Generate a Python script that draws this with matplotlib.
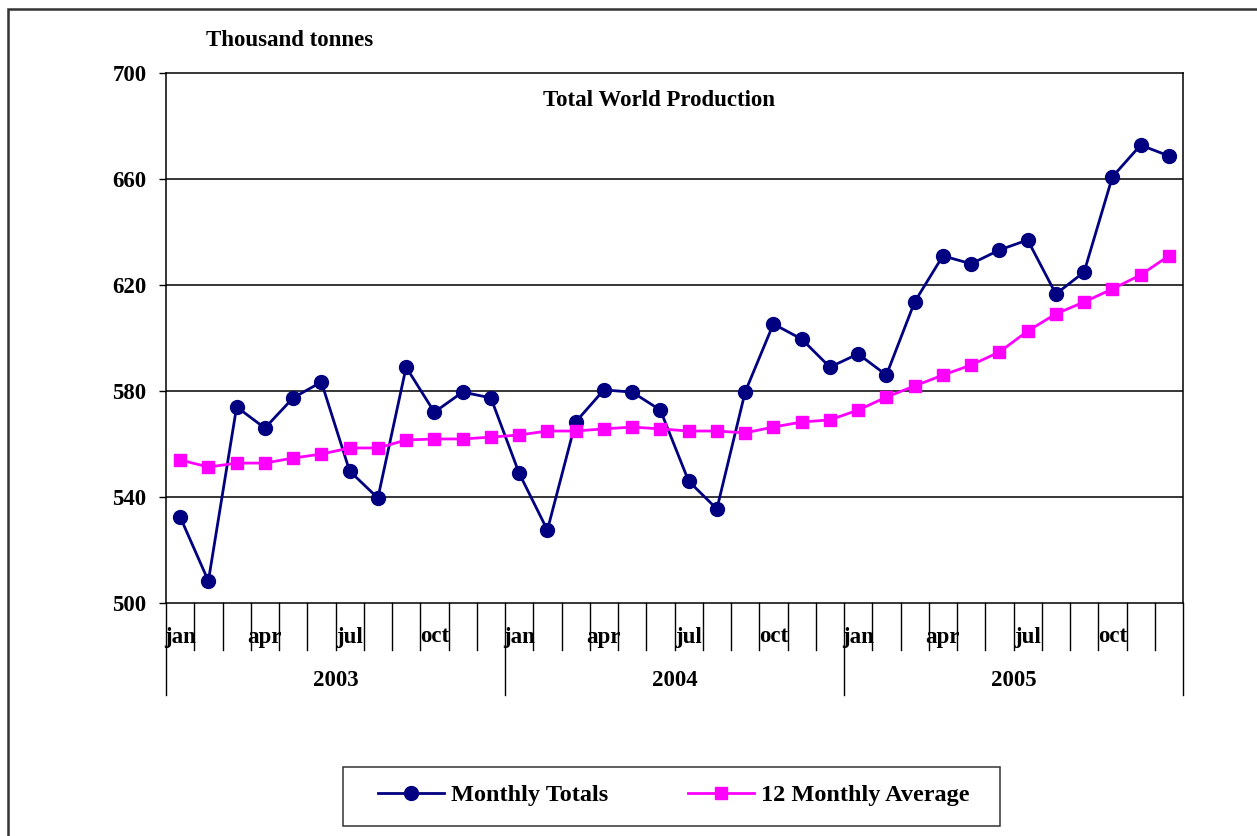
import matplotlib
matplotlib.use("Agg")
import matplotlib.pyplot as plt
from matplotlib.lines import Line2D
from matplotlib.patches import Rectangle

# ---------------------------------------------------------------------------
# Data (thousand tonnes, jan 2003 - dec 2005)
# ---------------------------------------------------------------------------
years = ["2003", "2004", "2005"]
month_labels = ["jan", "", "", "apr", "", "", "jul", "", "", "oct", "", ""]

monthly_totals = [
    532.5, 508.3, 574.0, 566.0, 577.4, 583.4, 549.8, 539.6, 589.0, 572.0, 579.6, 577.4,
    549.0, 527.5, 568.3, 580.4, 579.6, 572.8, 546.0, 535.5, 579.6, 605.3, 599.6, 589.0,
    594.0, 586.0, 613.6, 631.0, 628.0, 633.2, 637.0, 616.6, 624.9, 660.8, 672.8, 668.7,
]
avg_12m = [
    554.0, 551.3, 552.8, 552.8, 554.7, 556.2, 558.5, 558.5, 561.5, 561.9, 561.9, 562.6,
    563.4, 564.9, 564.9, 565.7, 566.4, 565.7, 564.9, 564.9, 564.2, 566.4, 568.3, 569.1,
    572.8, 577.7, 581.9, 586.0, 589.8, 594.7, 602.6, 609.1, 613.6, 618.5, 623.8, 631.0,
]

FONT = "Liberation Serif"
FS = 16.5
NAVY = "#000080"
MAGENTA = "#ff00ff"

n = len(monthly_totals)
xs = [i + 0.5 for i in range(n)]

# ---------------------------------------------------------------------------
# Figure
# ---------------------------------------------------------------------------
fig = plt.figure(figsize=(12.57, 8.36), dpi=100)
W, H = 1257, 836
ax = fig.add_axes([166 / W, 1 - 603 / H, (1183 - 166) / W, (603 - 73) / H])

# outer frame (only top/left visible in the reference)
fig.patches.append(Rectangle((8 / W, -0.05), 1.2, 1 - 9 / H + 0.05,
                             transform=fig.transFigure, fill=False,
                             edgecolor="#333333", linewidth=1.8))

ax.set_xlim(0, n)
ax.set_ylim(500, 700)
ax.set_yticks([500, 540, 580, 620, 660, 700])
for v in [540, 580, 620, 660]:
    ax.axhline(v, color="black", linewidth=1.1, zorder=1)

ax.tick_params(axis="y", length=5, width=1, pad=9, direction="out")
ax.set_xticks([])
for lab in ax.get_yticklabels():
    lab.set_fontfamily(FONT)
    lab.set_fontweight("bold")
    lab.set_fontsize(FS)
for s in ax.spines.values():
    s.set_linewidth(1.1)

ax.plot(xs, monthly_totals, color=NAVY, linewidth=2, marker="o",
        markersize=10, zorder=3, clip_on=False)
ax.plot(xs, avg_12m, color=MAGENTA, linewidth=2, marker="s",
        markersize=9, zorder=4, clip_on=False)

# multi-level category axis
trans = ax.get_xaxis_transform()
month_drop = -47 / 530
year_drop = -92 / 530
for i in range(n + 1):
    low = year_drop if i % 12 == 0 else month_drop
    ax.plot([i, i], [0, low], transform=trans, color="black",
            linewidth=1, clip_on=False)
for i in range(n):
    lab = month_labels[i % 12]
    if lab:
        ax.text(i + 0.5, -34 / 530, lab, transform=trans, ha="center",
                va="center", fontfamily=FONT, fontweight="bold", fontsize=FS)
for k, yr in enumerate(years):
    ax.text(k * 12 + 6, -77 / 530, yr, transform=trans, ha="center",
            va="center", fontfamily=FONT, fontweight="bold", fontsize=FS)

# texts
fig.text(206 / W, 1 - 40 / H, "Thousand tonnes", ha="left", va="center",
         fontfamily=FONT, fontweight="bold", fontsize=FS)
fig.text(659 / W, 1 - 101 / H, "Total World Production", ha="center",
         va="center", fontfamily=FONT, fontweight="bold", fontsize=FS)

# legend (frame drawn separately to match the wider box)
fig.patches.append(Rectangle((343 / W, 1 - 826 / H), (1000 - 343) / W,
                             (826 - 767) / H, transform=fig.transFigure,
                             fill=False, edgecolor="#333333", linewidth=1.1))
handles = [
    Line2D([], [], color=NAVY, linewidth=2, marker="o", markersize=10),
    Line2D([], [], color=MAGENTA, linewidth=2, marker="s", markersize=9),
]
fig.legend(handles, ["Monthly Totals", "12 Monthly Average"],
           loc="center", bbox_to_anchor=(674 / W, 1 - 795 / H),
           ncol=2, frameon=False, columnspacing=3.3,
           handlelength=2.7, handletextpad=0.3, borderaxespad=0,
           prop={"family": FONT, "weight": "bold", "size": 17.5})

fig.savefig("out.png", dpi=100, facecolor="white")
